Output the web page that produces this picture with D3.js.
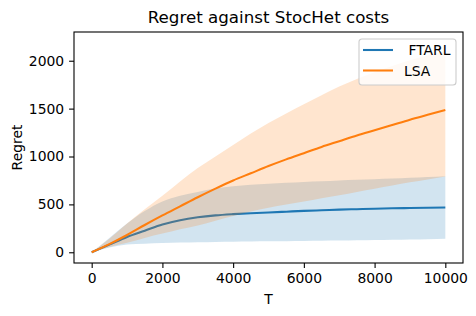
<!DOCTYPE html>
<html>
<head>
<meta charset="utf-8">
<script src="https://cdn.jsdelivr.net/npm/d3@7"></script>
<style>
  body { margin: 0; background: #fff; }
  svg text { font-family: "DejaVu Sans", sans-serif; fill: #000; }
</style>
</head>
<body>
<div id="chart"></div>
<script>
// values
const T = [0, 500, 1000, 1500, 2000, 2500, 3000, 3500, 4000, 4500, 5000,
  5500, 6000, 6500, 7000, 7500, 8000, 8500, 9000, 9500, 10000];

const ftarlMean = [0, 80, 160, 225, 290, 335, 365, 385, 398, 408, 416,
  424, 432, 438, 445, 450, 455, 459, 462, 465, 468];
const ftarlLow = [0, 50, 80, 90, 97, 101, 105, 108, 110, 112, 114,
  116, 118, 120, 122, 125, 128, 131, 134, 137, 140];
const ftarlHigh = [0, 150, 300, 430, 530, 590, 630, 665, 690, 705, 715,
  725, 735, 742, 750, 756, 763, 770, 778, 786, 795];

const lsaMean = [0, 85, 180, 285, 385, 480, 575, 665, 750, 825, 900,
  970, 1035, 1100, 1160, 1220, 1275, 1330, 1385, 1435, 1485];
const lsaLow = [0, 55, 100, 150, 195, 240, 280, 330, 380, 425, 465,
  500, 530, 565, 595, 630, 664, 697, 730, 760, 790];
const lsaHigh = [0, 140, 300, 450, 590, 740, 880, 1000, 1120, 1240, 1350,
  1450, 1545, 1640, 1730, 1810, 1880, 1945, 2005, 2055, 2100];

const xTicks = [0, 2000, 4000, 6000, 8000, 10000];
const yTicks = [0, 500, 1000, 1500, 2000];

const seriesNames = [" FTARL", "LSA"];
const seriesColors = ["#1f77b4", "#ff7f0e"];

const W = 476, H = 316;
const margin = { top: 32, right: 13, bottom: 53, left: 74 };
const width = W - margin.left - margin.right;
const height = H - margin.top - margin.bottom;

const svg = d3.select("#chart").append("svg")
  .attr("width", W).attr("height", H);

const g = svg.append("g")
  .attr("transform", `translate(${margin.left},${margin.top})`);

const x = d3.scaleLinear().domain([-500, 10500]).range([0, width]);
const y = d3.scaleLinear().domain([-112, 2300]).range([height, 0]);

const series = [
  { mean: ftarlMean, low: ftarlLow, high: ftarlHigh },
  { mean: lsaMean, low: lsaLow, high: lsaHigh }
];

const area = d3.area()
  .x((d) => x(d.t))
  .y0((d) => y(d.lo))
  .y1((d) => y(d.hi))
  .curve(d3.curveMonotoneX);

const line = d3.line()
  .x((d) => x(d.t))
  .y((d) => y(d.v))
  .curve(d3.curveMonotoneX);

series.forEach((s, i) => {
  g.append("path")
    .attr("class", "lines")
    .datum(T.map((t, j) => ({ t: t, v: s.mean[j] })))
    .attr("fill", "none")
    .attr("stroke", seriesColors[i])
    .attr("stroke-width", 2.08)
    .attr("d", line);

  g.append("path")
    .datum(T.map((t, j) => ({ t: t, lo: s.low[j], hi: s.high[j] })))
    .attr("fill", seriesColors[i])
    .attr("fill-opacity", 0.2)
    .attr("d", area);
});

// axes
const xAxis = g.append("g")
  .attr("transform", `translate(0,${height})`)
  .call(d3.axisBottom(x).tickValues(xTicks).tickFormat(d3.format("d"))
    .tickSizeOuter(0).tickSize(4.9).tickPadding(4.9));
const yAxis = g.append("g")
  .call(d3.axisLeft(y).tickValues(yTicks).tickFormat(d3.format("d"))
    .tickSizeOuter(0).tickSize(4.9).tickPadding(4.9));

[xAxis, yAxis].forEach((a) => {
  a.select(".domain").remove();
  a.selectAll("line").attr("stroke", "#000").attr("stroke-width", 1.1);
  a.selectAll("text").style("font-size", "13.9px").attr("font-family", null);
});

g.append("rect")
  .attr("width", width).attr("height", height)
  .attr("fill", "none").attr("stroke", "#000").attr("stroke-width", 1.1);

// labels
svg.append("text")
  .attr("x", margin.left + width / 2).attr("y", 23)
  .attr("text-anchor", "middle")
  .style("font-size", "16.7px")
  .text("Regret against StocHet costs");

svg.append("text")
  .attr("x", margin.left + width / 2).attr("y", 304)
  .attr("text-anchor", "middle")
  .style("font-size", "13.9px")
  .text("T");

svg.append("text")
  .attr("transform", `translate(22,${margin.top + height / 2}) rotate(-90)`)
  .attr("text-anchor", "middle")
  .style("font-size", "13.9px")
  .text("Regret");

// legend
const legend = svg.append("g").attr("transform", "translate(359,39)");
legend.append("rect")
  .attr("width", 97).attr("height", 46).attr("rx", 3)
  .attr("fill", "#fff").attr("fill-opacity", 0.8)
  .attr("stroke", "#cccccc").attr("stroke-width", 1.1);

seriesNames.forEach((name, i) => {
  const ly = 11 + i * 20.5;
  legend.append("line")
    .attr("x1", 4).attr("x2", 34)
    .attr("y1", ly).attr("y2", ly)
    .attr("stroke", seriesColors[i]).attr("stroke-width", 2.08);
  legend.append("text")
    .attr("x", 45).attr("y", ly + 5)
    .attr("xml:space", "preserve")
    .style("white-space", "pre")
    .style("font-size", "13.9px")
    .text(name);
});
</script>
</body>
</html>
